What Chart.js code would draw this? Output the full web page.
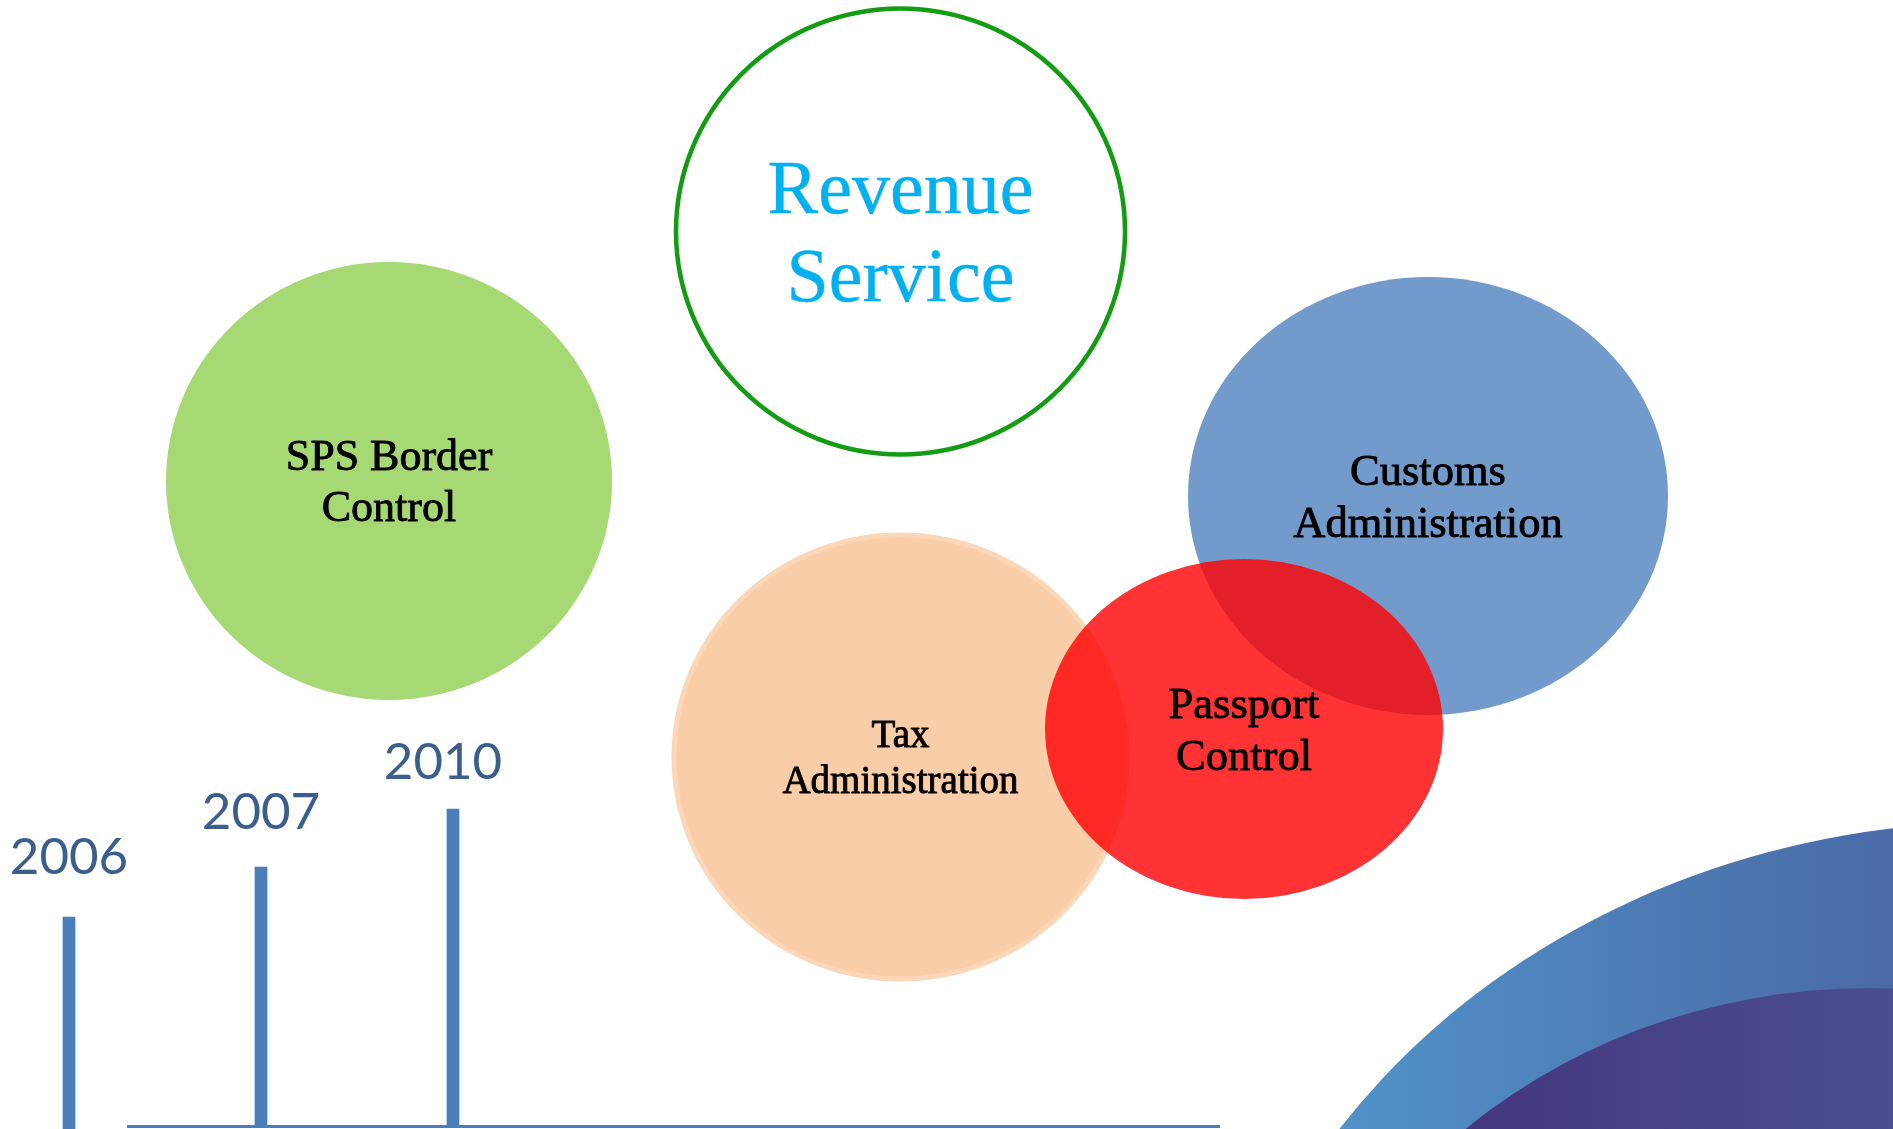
<!DOCTYPE html>
<html><head><meta charset="utf-8">
<script src="https://cdn.jsdelivr.net/npm/chart.js@4.4.1/dist/chart.umd.min.js"></script>
<style>html,body{margin:0;padding:0;background:#fff;overflow:hidden}canvas{display:block}</style>
</head><body>
<canvas id="c" width="1893" height="1129"></canvas>
<script>
// ---- timeline data ----
const years = ['2006', '2007', '2010'];
const yearX = [69, 261, 453];
const yearTop = [917, 867, 809];
const yearBase = [1129, 1126, 1126];
const axisX = [127, 1220];
const axisY = [1126.5, 1126.5];

// ---- bubble (ellipse) data ----
const bubbleNames = [['Revenue', 'Service'], ['SPS Border', 'Control'], ['Customs', 'Administration'], ['Tax', 'Administration'], ['Passport', 'Control']];
const bubbleCX = [900.5, 389, 1428, 900.5, 1244];
const bubbleCY = [231.5, 481, 496, 757, 729];
const bubbleRX = [224.5, 223, 240, 226.5, 199];
const bubbleRY = [223, 219, 219, 222, 170];

// ---- decorative arcs (bottom right) ----
const arcCX = [2000, 1870];
const arcCY = [1526, 1528];
const arcRX = [800, 600];
const arcRY = [704, 540];

// ---- styles (layout only) ----
const bubbleFill = [null, '#a6d974', '#729bcb', '#f9cda8', '#ff0000'];
const bubbleAlpha = [1, 1, 1, 1, 0.8];
const bubbleStroke = ['#129c12', null, null, '#fbd6b7', null];
const bubbleStrokeW = [4.5, 0, 0, 5, 0];
const bubbleFont = [76, 44, 44.5, 39, 44.5];
const bubbleTextColor = ['#00b0f0', '#000000', '#000000', '#000000', '#000000'];
const bubbleTextWeight = [0.4, 0.9, 0.9, 0.9, 0.9];
const arcColors = [['#5191c8', '#4a6aa6'], ['#42307a', '#4a4f8f']];
const labelDX = [0, 0, -10];
const labelGap = [43, 38, 30];

const diagramPlugin = {
  id: 'diagram',
  beforeDatasetsDraw(chart) {
    const { ctx, scales: { x, y }, chartArea } = chart;
    ctx.save();
    ctx.beginPath();
    ctx.rect(chartArea.left, chartArea.top, chartArea.right - chartArea.left, chartArea.bottom - chartArea.top);
    ctx.clip();
    for (let i = 0; i < arcCX.length; i++) {
      const cx = x.getPixelForValue(arcCX[i]), cy = y.getPixelForValue(arcCY[i]);
      const rx = Math.abs(x.getPixelForValue(arcCX[i] + arcRX[i]) - cx);
      const ry = Math.abs(y.getPixelForValue(arcCY[i] + arcRY[i]) - cy);
      const g = ctx.createLinearGradient(x.getPixelForValue(1353), 0, x.getPixelForValue(1893), 0);
      g.addColorStop(0, arcColors[i][0]);
      g.addColorStop(1, arcColors[i][1]);
      ctx.fillStyle = g;
      ctx.beginPath();
      ctx.ellipse(cx, cy, rx, ry, 0, 0, Math.PI * 2);
      ctx.fill();
    }
    for (let i = 0; i < bubbleCX.length; i++) {
      const cx = x.getPixelForValue(bubbleCX[i]), cy = y.getPixelForValue(bubbleCY[i]);
      const rx = Math.abs(x.getPixelForValue(bubbleCX[i] + bubbleRX[i]) - cx);
      const ry = Math.abs(y.getPixelForValue(bubbleCY[i] + bubbleRY[i]) - cy);
      ctx.beginPath();
      ctx.ellipse(cx, cy, rx, ry, 0, 0, Math.PI * 2);
      ctx.globalAlpha = bubbleAlpha[i];
      if (bubbleFill[i]) { ctx.fillStyle = bubbleFill[i]; ctx.fill(); }
      ctx.globalAlpha = 1;
      if (bubbleStroke[i]) { ctx.strokeStyle = bubbleStroke[i]; ctx.lineWidth = bubbleStrokeW[i]; ctx.stroke(); }
    }
    ctx.restore();
  },
  afterDatasetsDraw(chart) {
    const { ctx, scales: { x, y } } = chart;
    ctx.save();
    ctx.textAlign = 'center';
    ctx.textBaseline = 'alphabetic';
    ctx.lineJoin = 'round';
    for (let i = 0; i < bubbleCX.length; i++) {
      const cx = x.getPixelForValue(bubbleCX[i]), cy = y.getPixelForValue(bubbleCY[i]);
      const fs = bubbleFont[i];
      const cap = fs * 0.662, gap = fs * 1.16;
      ctx.font = fs + 'px "Liberation Serif", serif';
      ctx.fillStyle = bubbleTextColor[i];
      ctx.strokeStyle = bubbleTextColor[i];
      ctx.lineWidth = bubbleTextWeight[i];
      const lines = bubbleNames[i];
      lines.forEach((t, k) => {
        const by = cy - gap * (lines.length - 1) / 2 + gap * k + cap / 2;
        ctx.fillText(t, cx, by);
        ctx.strokeText(t, cx, by);
      });
    }
    const meta = chart.getDatasetMeta(0);
    ctx.font = '51px Lato, "Open Sans", sans-serif';
    ctx.fillStyle = '#3b5e8c';
    meta.data.forEach((bar, i) => {
      const top = Math.min(bar.y, bar.base);
      ctx.fillText(years[i], bar.x + labelDX[i], top - labelGap[i]);
    });
    ctx.restore();
  }
};

new Chart(document.getElementById('c'), {
  type: 'bar',
  data: {
    datasets: [
      {
        type: 'bar',
        data: years.map((yr, i) => ({ x: yearX[i], y: [yearBase[i], yearTop[i]] })),
        backgroundColor: '#4a7ebb',
        borderWidth: 0,
        barThickness: 12,
        borderSkipped: false
      },
      {
        type: 'line',
        data: axisX.map((v, i) => ({ x: v, y: axisY[i] })),
        borderColor: '#4a7ebb',
        borderWidth: 3,
        pointRadius: 0,
        fill: false,
        tension: 0
      }
    ]
  },
  options: {
    responsive: false,
    animation: false,
    devicePixelRatio: 1,
    layout: { padding: 0 },
    plugins: { legend: { display: false }, tooltip: { enabled: false } },
    scales: {
      x: { type: 'linear', min: 0, max: 1893, display: false, offset: false },
      y: { type: 'linear', min: 0, max: 1129, reverse: true, display: false }
    }
  },
  plugins: [diagramPlugin]
});
</script>
</body></html>
